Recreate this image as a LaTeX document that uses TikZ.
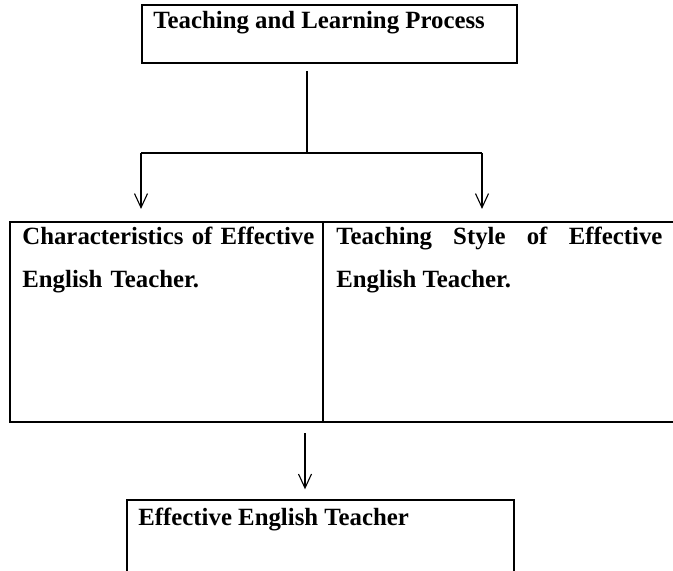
\documentclass[tikz,border=0pt]{standalone}
\usepackage{fontspec}
\setmainfont{Liberation Serif}
\usetikzlibrary{arrows.meta}

\begin{document}
\hyphenpenalty=10000
\exhyphenpenalty=10000
\begin{tikzpicture}[
  x=0.5pt, y=-0.5pt,
  font=\fontsize{12.4}{21}\selectfont\bfseries,
  box/.style={draw, line width=0.7pt, inner sep=0pt},
  widebox/.style={draw, line width=1.1pt, inner sep=0pt, minimum height=100pt},
  heading/.style={anchor=base west, inner sep=0pt},
  stem/.style={line width=0.95pt},
  arrow/.style={line width=0.55pt, -{Straight Barb[length=7pt, width=6.5pt]}}
]
\clip (0,0) rectangle (673,571);
\node[box, minimum width=187.5pt, minimum height=29pt] (procBox) at (329.5,34) {};
\node[widebox, minimum width=156.5pt] (charBox) at (166.5,322) {};
\node[widebox, minimum width=188.5pt] (styleBox) at (511.5,322) {};
\node[box, minimum width=193.5pt, minimum height=60pt] (teacherBox) at (320.5,560) {};

\node[heading] (procText) at (153,29) {Teaching and Learning Process};
\node[heading, text width=150pt, align=left] (charText) at (22,245)
  {Characteristics of Effective English Teacher.};
\node[heading, text width=163pt, align=justify] (styleText) at (336,245)
  {Teaching Style of Effective English Teacher.};
\node[heading] (teacherText) at (138,525) {Effective English Teacher};

% fork from the process box
\coordinate (stemTop) at (307,63);
\coordinate (fork) at (307,153);
\coordinate (forkL) at (141,153);
\coordinate (forkR) at (482,153);
\coordinate (drop) at (305,422);

\draw[stem, shorten <=4pt] (stemTop) -- (fork);
\draw[stem] (forkL) -- (forkR);
\draw[arrow, shorten >=6pt] (forkL) -- (forkL |- charBox.north);
\draw[arrow, shorten >=6pt] (forkR) -- (forkR |- styleBox.north);
\draw[arrow, shorten <=5.5pt, shorten >=5pt] (drop) -- (drop |- teacherBox.north);
\end{tikzpicture}
\end{document}
